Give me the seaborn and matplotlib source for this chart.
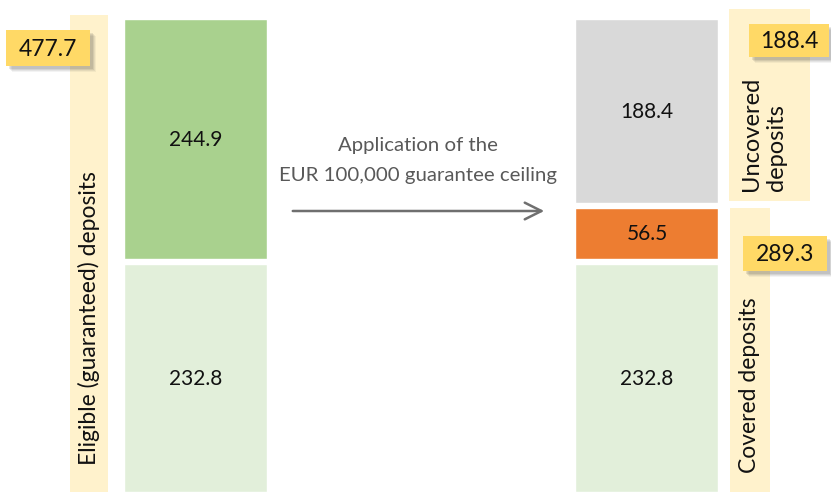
import matplotlib
matplotlib.use("Agg")
import matplotlib.pyplot as plt
from matplotlib.patches import Rectangle
import seaborn as sns
import pandas as pd

# Deposit figures (EUR bn)
bars = ["Eligible", "Covered"]
eligible_insured = 232.8
eligible_above = 244.9
covered_insured = 232.8
covered_part = 56.5
uncovered = 188.4
eligible_total = 477.7
covered_total = 289.3

c_green = "#A9D18E"
c_lightgreen = "#E2EFDA"
c_grey = "#D9D9D9"
c_orange = "#ED7D31"
c_band = "#FFF2CC"
c_callout = "#FFD966"

sns.set_theme(style="white")
plt.rcParams["font.family"] = ["Lato", "DejaVu Sans"]

W, H = 831, 492
fig = plt.figure(figsize=(W / 100, H / 100), dpi=100)
ax = fig.add_axes([0, 0, 1, 1])

# Stacked bars drawn as cumulative layers, largest first
layers = [
    ({"Eligible": eligible_insured + eligible_above,
      "Covered": covered_insured + covered_part + uncovered},
     {"Eligible": c_green, "Covered": c_grey}),
    ({"Eligible": eligible_insured, "Covered": covered_insured + covered_part},
     {"Eligible": c_lightgreen, "Covered": c_orange}),
    ({"Covered": covered_insured},
     {"Covered": c_lightgreen}),
]
for vals, pal in layers:
    df = pd.DataFrame({"bar": list(vals.keys()), "value": list(vals.values())})
    sns.barplot(data=df, x="bar", y="value", hue="bar", order=bars,
                hue_order=list(vals.keys()), palette=pal, width=0.328,
                saturation=1, edgecolor="white", linewidth=4.6,
                legend=False, ax=ax)

px_per_x = 451.0
x0_px = 196.0
ax.set_xlim(-x0_px / px_per_x, (W - x0_px) / px_per_x)
# bar bases sit just below the bottom edge of the figure
ax.set_ylim(3, H + 3)
ax.axis("off")

# Segment value labels
seg_labels = [
    (0, eligible_insured / 2, eligible_insured),
    (0, eligible_insured + eligible_above / 2, eligible_above),
    (1, covered_insured / 2, covered_insured),
    (1, covered_insured + covered_part / 2, covered_part),
    (1, covered_insured + covered_part + uncovered / 2, uncovered),
]
for xi, yv, v in seg_labels:
    ax.text(xi, yv, f"{v:.1f}", ha="center", va="center", fontsize=15,
            color="#111111")

# Overlay in pixel coordinates for annotations
ov = fig.add_axes([0, 0, 1, 1], zorder=5)
ov.set_xlim(0, W)
ov.set_ylim(H, 0)
ov.axis("off")
ov.patch.set_alpha(0)

# Side bands
for x, y, w, h in [(70, 15, 38, 477), (729, 9, 81, 192), (730, 208, 40, 284)]:
    ov.add_patch(Rectangle((x, y), w, h, facecolor=c_band, edgecolor="none"))

ov.text(89, 318, "Eligible (guaranteed) deposits", rotation=90, ha="center",
        va="center", fontsize=16.5, color="#111111")
ov.text(764, 134, "Uncovered\ndeposits", rotation=90, ha="center",
        va="center", multialignment="left", fontsize=17, color="#111111",
        linespacing=1.2)
ov.text(750, 385, "Covered deposits", rotation=90, ha="center",
        va="center", fontsize=16.5, color="#111111")


def callout(x, y, w, h, value):
    for k, a in [(6, 0.06), (5, 0.08), (4, 0.1), (3, 0.12)]:
        ov.add_patch(Rectangle((x + k, y + k), w, h, facecolor="#404040",
                               alpha=a, edgecolor="none"))
    ov.add_patch(Rectangle((x, y), w, h, facecolor=c_callout, edgecolor="none"))
    ov.text(x + w / 2, y + h / 2 + 1, f"{value:.1f}", ha="center",
            va="center", fontsize=16.5, color="#111111")


callout(6, 30, 84, 36, eligible_total)
callout(749, 24, 80, 33, uncovered)
callout(743, 236, 84, 35, covered_total)

# Transition arrow
ov.text(418, 145, "Application of the", ha="center", va="center",
        fontsize=14.7, color="#595959")
ov.text(418, 175, "EUR 100,000 guarantee ceiling", ha="center", va="center",
        fontsize=14.7, color="#595959")
ov.annotate("", xy=(547, 211), xytext=(290, 211),
            arrowprops=dict(arrowstyle="->,head_length=1.0,head_width=0.5",
                            color="#6f6f6f", lw=1.8))

fig.savefig("out.png", dpi=100)
